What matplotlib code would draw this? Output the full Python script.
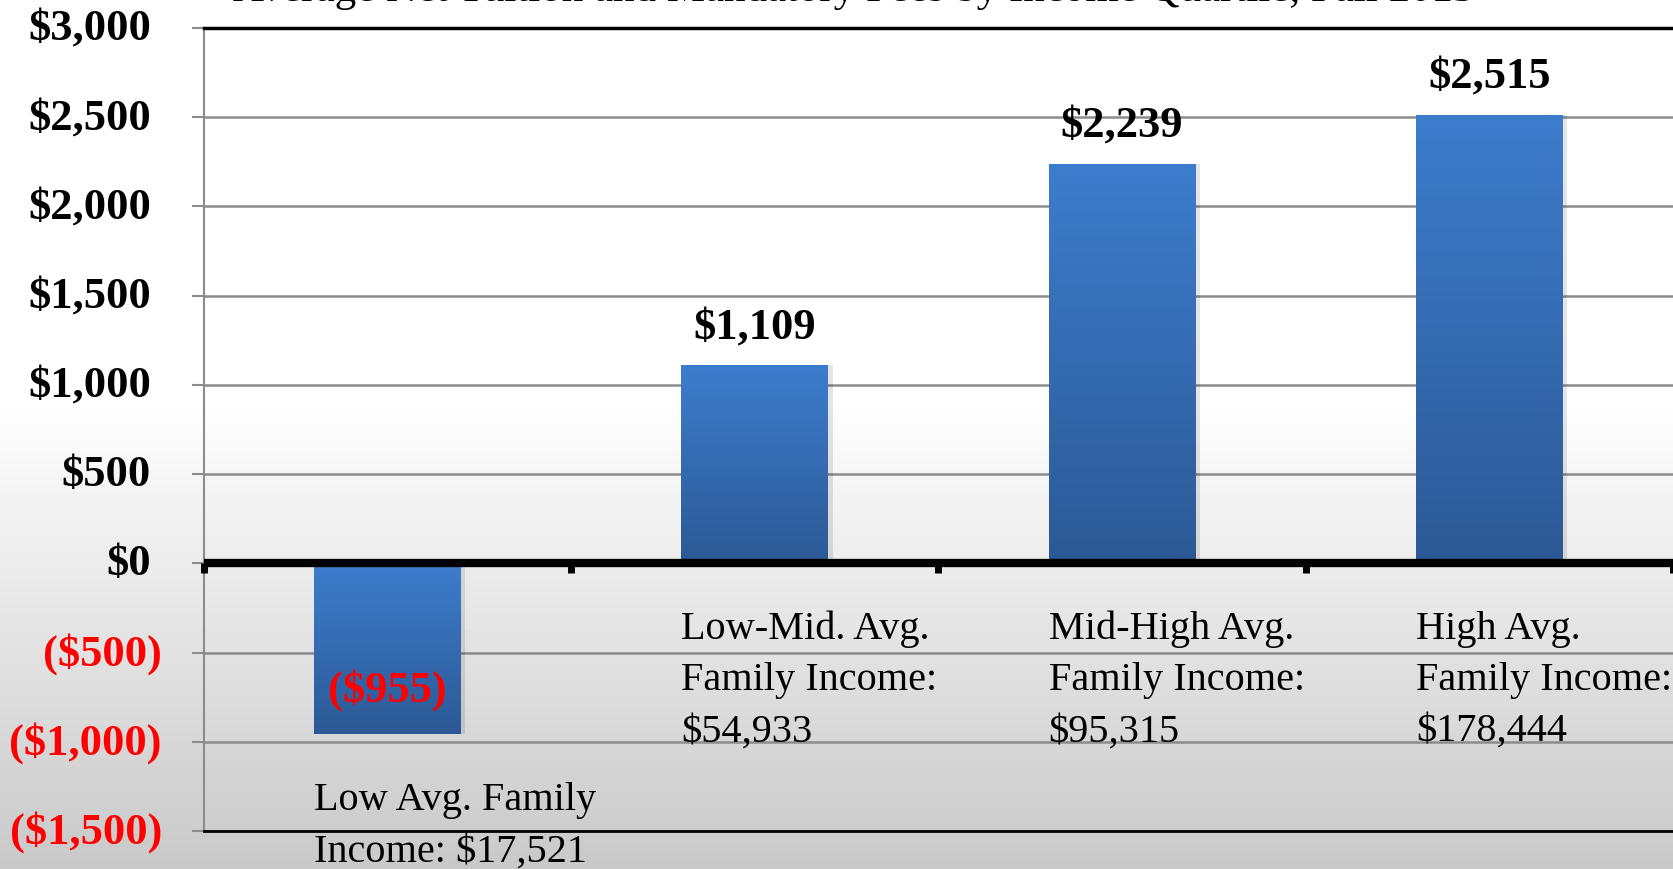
import numpy as np
import matplotlib.pyplot as plt
from matplotlib.colors import LinearSegmentedColormap
from matplotlib.transforms import blended_transform_factory, offset_copy

# data
labels = ['Low Avg. Family\nIncome: $17,521',
          'Low-Mid. Avg.\nFamily Income:\n$54,933',
          'Mid-High Avg.\nFamily Income:\n$95,315',
          'High Avg.\nFamily Income:\n$178,444']
values = [-955, 1109, 2239, 2515]
yticks = [-1500, -1000, -500, 0, 500, 1000, 1500, 2000, 2500, 3000]
title = 'Average Net Tuition and Mandatory Fees by Income Quartile, Fall 2013'

plt.rcParams['font.family'] = ['Liberation Serif', 'DejaVu Serif']


def money(v):
    return '${:,.0f}'.format(v) if v >= 0 else '(${:,.0f})'.format(-v)


fig = plt.figure(figsize=(16.73, 8.7), dpi=100)

# background gradient (white top, grey bottom)
bg = fig.add_axes([0, 0, 1, 1], zorder=-10)
h = 870
ys = np.arange(h)
shade = np.where(ys < 400, 1.0, 1.0 - (ys - 400) / (h - 400) * 0.215)
bg.imshow(shade.reshape(-1, 1), cmap='gray', vmin=0, vmax=1, aspect='auto',
          extent=[0, 1, 0, 1])
bg.axis('off')

ax = fig.add_axes([0.1219, 0.0437, 0.8781, 0.923])
ax.patch.set_alpha(0)

x = np.arange(len(values))
ax.set_xlim(-0.5, 3.5)
ax.set_ylim(-1500, 3000)

# grid
for v in yticks:
    if v != 0:
        ax.axhline(v, color='#8c8c8c', lw=1.8, zorder=1)

# shadows + bars with vertical gradient
w = 0.4
for xi, v in zip(x, values):
    ax.bar(xi + 0.012, v, w, color='#000000', alpha=0.10, zorder=2, linewidth=0)
bars = ax.bar(x, values, w, color='#3a78c6', zorder=3, linewidth=0)
grad = np.linspace(0, 1, 256).reshape(-1, 1)
cm = LinearSegmentedColormap.from_list('b', ['#3d7dcd', '#2c5995'])
for b, v in zip(bars, values):
    x0 = b.get_x()
    x1 = x0 + b.get_width()
    ext = [x0, x1, 0, v] if v >= 0 else [x0, x1, v, 0]
    img = ax.imshow(grad, cmap=cm, aspect='auto', extent=ext, zorder=4)
    img.set_clip_path(b)

# zero line with ticks
ax.axhline(0, color='black', lw=6, zorder=6)
for xb in np.arange(-0.5, 3.6, 1):
    ax.plot([xb, xb], [0, -55], color='black', lw=5, zorder=6, solid_capstyle='butt',
            clip_on=False)

# spines
ax.spines['top'].set_color('black')
ax.spines['top'].set_linewidth(2.5)
ax.spines['bottom'].set_color('black')
ax.spines['bottom'].set_linewidth(2)
ax.spines['left'].set_color('#8c8c8c')
ax.spines['left'].set_linewidth(1.5)
ax.spines['right'].set_visible(False)

ax.set_xticks([])
ax.set_yticks(yticks)
ax.tick_params(axis='y', length=9, width=1.5, color='#8c8c8c', labelleft=False)

# y tick labels (positives padded like Excel's "_)" format)
trans = blended_transform_factory(ax.transAxes, ax.transData)
for v in yticks:
    dx = -42 if v < 0 else -53
    t = offset_copy(trans, fig=fig, x=dx, y=0, units='dots')
    ax.text(0, v, money(v), transform=t, ha='right', va='center', fontsize=32,
            fontweight='bold', color='red' if v < 0 else 'black', clip_on=False)

# value labels
for xi, v in zip(x, values):
    if v >= 0:
        ax.annotate(money(v), (xi, v), xytext=(0, 28), textcoords='offset points',
                    ha='center', va='center', fontsize=32, fontweight='bold', zorder=7)
    else:
        ax.annotate(money(v), (xi, v), xytext=(0, 32), textcoords='offset points',
                    ha='center', va='center', fontsize=32, fontweight='bold', color='red',
                    zorder=7)

# category labels
for xi, v, t in zip(x, values, labels):
    y0 = -1222 if v < 0 else -260
    ax.text(xi - w / 2, y0, t, ha='left', va='top', fontsize=29, linespacing=1.5,
            clip_on=False, zorder=7)

fig.text(0.51, 0.9990, title, ha='center', va='baseline', fontsize=31)

fig.savefig('out.png', dpi=100)
